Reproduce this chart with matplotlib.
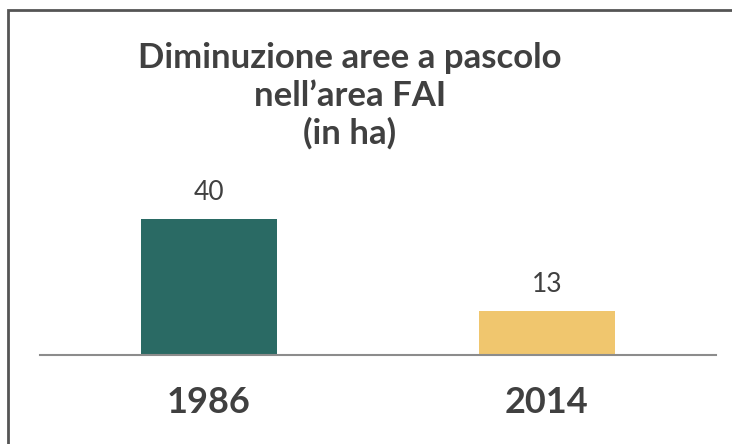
import matplotlib.pyplot as plt
from matplotlib.patches import Rectangle

years = ['1986', '2014']
hectares = [40, 13]
colors = ['#2a6a64', '#f0c66e']
title = "Diminuzione aree a pascolo\nnell\u2019area FAI\n(in ha)"

plt.rcParams['font.family'] = ['Lato', 'DejaVu Sans']
text_color = '#404040'

fig = plt.figure(figsize=(7.32, 4.44), dpi=100)
ax = fig.add_axes([40 / 732, 89 / 444, 676 / 732, 255 / 444])

x = range(len(years))
bars = ax.bar(x, hectares, width=0.40, color=colors, zorder=2)
ax.set_xlim(-0.5, 1.5)
ax.set_ylim(0, 75)

for b, v in zip(bars, hectares):
    ax.annotate(str(v), (b.get_x() + b.get_width() / 2, v), xytext=(0, 10),
                textcoords='offset points', ha='center', va='bottom',
                fontsize=19, color=text_color)

ax.set_xticks(list(x))
ax.set_xticklabels(years, fontsize=26, fontweight='bold', color=text_color)
ax.tick_params(axis='x', length=0, pad=22)
ax.set_yticks([])
for side in ['top', 'right', 'left']:
    ax.spines[side].set_visible(False)
ax.spines['bottom'].set_color('#8c8c8c')
ax.spines['bottom'].set_linewidth(1.5)

fig.text(350 / 732, 1 - 96 / 444, title, ha='center', va='center',
         fontsize=25, fontweight='bold', color=text_color, linespacing=1.2)

# outer frame (only top and left edges fall inside the image)
fig.patches.append(Rectangle((8 / 732, -0.1), 1.0, 1 - 10 / 444 + 0.1,
                             transform=fig.transFigure, fill=False,
                             edgecolor='#555555', linewidth=2))

plt.savefig('out.png')
plt.close()
